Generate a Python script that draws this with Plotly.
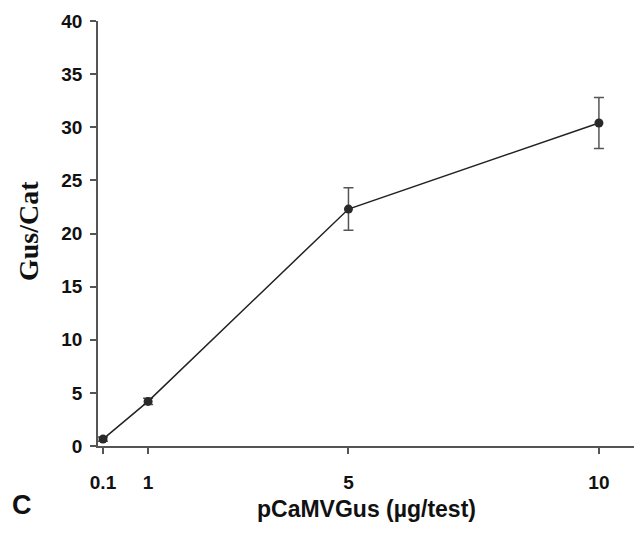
import plotly.graph_objects as go

dose = [0.1, 1, 5, 10]
gus_cat = [0.65, 4.2, 22.3, 30.4]
err = [0.2, 0.3, 2.0, 2.4]
x_ticks = [0.1, 1, 5, 10]
x_ticktext = ["0.1", "1", "5", "10"]
y_ticks = [0, 5, 10, 15, 20, 25, 30, 35, 40]

# page body has an 8px default margin; shift the figure to compensate
OFF = 8
W, H = 642 - OFF, 536 - OFF
L, R, T, B = 98 - OFF, 0, 21 - OFF, 90

fig = go.Figure()
fig.add_trace(go.Scatter(
    x=dose, y=gus_cat, mode="lines+markers",
    line=dict(color="#222222", width=1.5),
    marker=dict(color="#2a2a2a", size=9, symbol="circle"),
    error_y=dict(type="data", array=err, visible=True, color="#555555", thickness=1.5, width=5),
    showlegend=False,
))

axis_font = dict(family="Liberation Sans, Arial", size=19, color="#111111", weight="bold")
fig.update_layout(
    width=W, height=H,
    margin=dict(l=L, r=R, t=T, b=B, autoexpand=False),
    paper_bgcolor="white", plot_bgcolor="white",
    xaxis=dict(
        range=[0, 10.86], tickvals=x_ticks, ticktext=x_ticktext, automargin=False,
        showgrid=False, zeroline=False, showline=True, linecolor="#555555", linewidth=1.5,
        ticks="outside", ticklen=6, tickwidth=1.5, tickcolor="#555555",
        tickfont=axis_font, ticklabelstandoff=12,
    ),
    yaxis=dict(
        range=[0, 40], tickvals=y_ticks, automargin=False,
        showgrid=False, zeroline=False, showline=True, linecolor="#555555", linewidth=1.5,
        ticks="outside", ticklen=6, tickwidth=1.5, tickcolor="#555555",
        tickfont=axis_font, ticklabelstandoff=4,
    ),
)

pw, ph = W - L - R, H - T - B
labels = [
    ("<b>Gus/Cat</b>", 28, 231, -90, dict(family="Liberation Serif, Times New Roman", size=28, color="#111111")),
    ("<b>pCaMVGus (µg/test)</b>", 366, 509, 0, dict(family="Liberation Sans, Arial", size=23, color="#111111")),
    ("<b>C</b>", 22, 505, 0, dict(family="Liberation Sans, Arial", size=27, color="#111111")),
]
for text, px, py, ang, font in labels:
    fig.add_annotation(text=text, xref="paper", yref="paper",
                       x=(px - OFF - L) / pw, y=(H - B - (py - OFF)) / ph,
                       xanchor="center", yanchor="middle",
                       showarrow=False, textangle=ang, font=font)
fig.write_html("out.html")
